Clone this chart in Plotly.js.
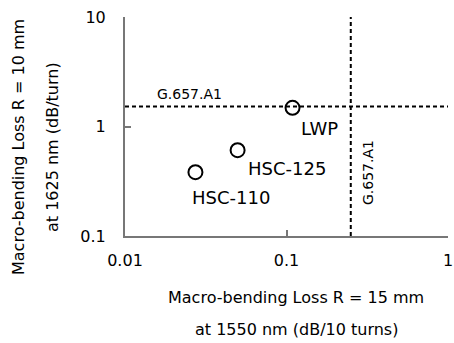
<!DOCTYPE html>
<html>
<head>
<meta charset="utf-8">
<script src="https://cdn.plot.ly/plotly-3.0.1.min.js"></script>
<style>html,body{margin:0;padding:0;background:#fff;}#chart{width:454px;height:343px;}</style>
</head>
<body>
<div id="chart"></div>
<script>
var fiberNames = ["HSC-110", "HSC-125", "LWP"];
var loss1550 = [0.0273, 0.0498, 0.109];
var loss1625 = [0.383, 0.608, 1.48];
var labelShiftX = [-5, 8, 6];
var labelShiftY = [-13, -6, -8];
var specX = 0.25;
var specY = 1.52;
var specLabel = "G.657.A1";
var xTicks = [0.01, 0.1, 1];
var xTickText = ["0.01", "0.1", "1"];
var yTicks = [0.1, 1, 10];
var yTickText = ["0.1", "1", "10"];
var xTitle = ["Macro-bending Loss R = 15 mm", "at 1550 nm (dB/10 turns)"];
var yTitle = ["Macro-bending Loss R = 10 mm", "at 1625 nm (dB/turn)"];

var font = "DejaVu Sans, Verdana, sans-serif";

var traces = [
  {x: [0.01, 1], y: [specY, specY], mode: "lines", line: {color: "#000", width: 2, dash: "4px,3px"}, hoverinfo: "skip"},
  {x: [specX, specX], y: [0.1, 10], mode: "lines", line: {color: "#000", width: 2, dash: "4px,3px"}, hoverinfo: "skip"},
  {x: loss1550, y: loss1625, mode: "markers", marker: {symbol: "circle-open", size: 14, color: "#000", line: {width: 2, color: "#000"}}}
];

var annotations = [];
for (var i = 0; i < fiberNames.length; i++) {
  annotations.push({x: Math.log10(loss1550[i]), y: Math.log10(loss1625[i]), xref: "x", yref: "y",
    text: fiberNames[i], showarrow: false, xanchor: "left", yanchor: "top",
    xshift: labelShiftX[i], yshift: labelShiftY[i], font: {family: font, size: 18, color: "#000"}});
}
var px = [];
px.push({x: 189, y: 94, text: specLabel, size: 14, angle: 0});
px.push({x: 368, y: 173, text: specLabel, size: 14, angle: -90});
px.push({x: 296, y: 297, text: xTitle[0], size: 16, angle: 0});
px.push({x: 296, y: 329, text: xTitle[1], size: 16, angle: 0});
px.push({x: 18, y: 147, text: yTitle[0], size: 16, angle: -90});
px.push({x: 52, y: 147, text: yTitle[1], size: 16, angle: -90});

var L = 125, R = 6, T = 17, B = 107, W = 454, H = 343;
var pw = W - L - R, ph = H - T - B;
px.forEach(function(p){
  annotations.push({x: (p.x - L) / pw, y: (H - p.y - B) / ph, xref: "paper", yref: "paper",
    xanchor: "center", yanchor: "middle", text: p.text, showarrow: false, textangle: p.angle,
    font: {family: font, size: p.size, color: "#000"}});
});

var layout = {
  width: W, height: H,
  margin: {l: L, r: R, t: T, b: B, pad: 0},
  paper_bgcolor: "#fff", plot_bgcolor: "#fff",
  showlegend: false,
  font: {family: font, size: 16, color: "#000"},
  xaxis: {type: "log", range: [-2, 0], tickvals: xTicks, ticktext: xTickText, ticks: "inside", ticklen: 6,
    tickcolor: "#777", tickwidth: 2, showline: true, linecolor: "#777", linewidth: 2, showgrid: false, zeroline: false,
    ticklabelstandoff: 9, ticklabeloverflow: "allow", tickfont: {family: font, size: 16, color: "#000"}},
  yaxis: {type: "log", range: [-1, 1], tickvals: yTicks, ticktext: yTickText, ticks: "inside", ticklen: 6,
    tickcolor: "#777", tickwidth: 2, showline: true, linecolor: "#777", linewidth: 2, showgrid: false, zeroline: false,
    ticklabelstandoff: 14, ticklabeloverflow: "allow", tickfont: {family: font, size: 16, color: "#000"}},
  annotations: annotations
};

Plotly.newPlot("chart", traces, layout, {displayModeBar: false, staticPlot: true});
</script>
</body>
</html>
